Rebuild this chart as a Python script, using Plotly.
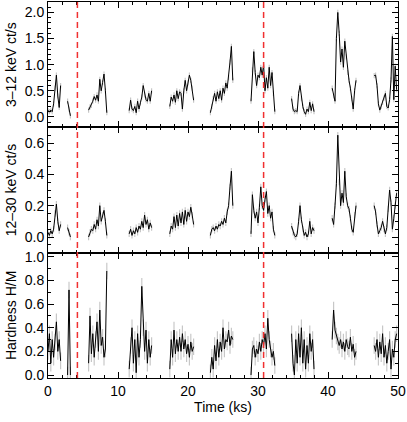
import plotly.graph_objects as go
from plotly.subplots import make_subplots

# time bins (ks): start of each good-time segment, 0.2 ks bins
SEG_START = [0.0, 2.8, 5.8, 11.6, 17.4, 23.2, 29.0, 34.8, 40.6, 46.6]
BIN = 0.2

RATE_3_12 = [
    [0.12, 0.1, 0.13, 0.1, 0.25, 0.55, 0.8, 0.4, 0.18, 0.6],
    [0.3, 0.15, 0.02],
    [0.13, 0.19, 0.22, 0.3, 0.39, 0.32, 0.42, 0.3, 0.72, 0.5, 0.66, 0.82, 0.5, 0.08],
    [0.12, 0.32, 0.15, 0.12, 0.2, 0.08, 0.3, 0.15, 0.27, 0.38, 0.6, 0.42, 0.33, 0.3, 0.45, 0.3, 0.5],
    [0.2, 0.38, 0.3, 0.42, 0.28, 0.5, 0.35, 0.48, 0.45, 0.15, 0.5, 0.7, 0.5, 0.65, 0.8, 0.7, 0.55, 0.32],
    [0.08, 0.2, 0.35, 0.45, 0.3, 0.48, 0.35, 0.5, 0.32, 0.55, 0.45, 0.65, 0.55, 0.75, 1.05, 1.35, 0.7],
    [0.3, 0.9, 1.25, 0.85, 0.6, 0.8, 0.75, 0.95, 0.8, 1.0, 0.5, 0.75, 0.55, 0.95, 0.6, 0.85, 0.45, 0.1],
    [0.35, 0.15, 0.1, 0.12, 0.1, 0.45, 0.6, 0.35, 0.2, 0.1, 0.05, 0.15, 0.1, 0.28, 0.12, 0.25, 0.1],
    [0.55, 0.4, 0.3, 1.5, 2.0, 1.6, 1.05, 1.3, 0.95, 1.45, 1.15, 0.85, 0.7, 0.55, 0.35, 0.15, 0.5, 0.7],
    [0.79, 0.8, 0.6, 0.25, 0.13, 0.2, 0.28, 0.36, 0.45, 0.2, 0.17, 0.33, 0.71, 1.54, 0.33, 0.97, 0.52],
]

RATE_12_30 = [
    [0.03, 0.01, 0.04, 0.02, 0.05, 0.15, 0.21, 0.1, 0.04, 0.08],
    [0.06, 0.03, 0.0],
    [0.0, 0.03, 0.05, 0.04, 0.08, 0.05, 0.11, 0.07, 0.2, 0.1, 0.14, 0.17, 0.1, 0.01],
    [0.02, 0.05, 0.01, 0.04, 0.02, 0.06, 0.03, 0.07, 0.05, 0.1, 0.06, 0.14, 0.08, 0.11, 0.05, 0.09, 0.06],
    [0.02, 0.07, 0.05, 0.13, 0.06, 0.14, 0.07, 0.15, 0.09, 0.16, 0.08, 0.17, 0.1, 0.16, 0.13, 0.19, 0.14, 0.08],
    [0.01, 0.05, 0.06, 0.04, 0.07, 0.05, 0.08, 0.07, 0.1, 0.08, 0.12, 0.09, 0.16, 0.2, 0.32, 0.42, 0.2],
    [0.02, 0.27, 0.17, 0.12, 0.16, 0.09, 0.19, 0.32, 0.2, 0.17, 0.24, 0.29, 0.15, 0.2, 0.12, 0.16, 0.05, 0.01],
    [0.07, 0.03, 0.01, 0.0, 0.02, 0.1, 0.2, 0.11, 0.05, 0.01, 0.03, 0.0, 0.02, 0.1, 0.02, 0.06, 0.04],
    [0.12, 0.08, 0.2, 0.34, 0.65, 0.35, 0.2, 0.28, 0.22, 0.42, 0.26, 0.2, 0.18, 0.12, 0.05, 0.03, 0.14, 0.2],
    [0.2, 0.16, 0.08, 0.02, 0.04, 0.06, 0.1, 0.05, 0.02, 0.06, 0.18, 0.3, 0.22, 0.05, 0.12, 0.2, 0.28],
]

HARDNESS = [
    [0.2, 0.35, 0.1, 0.3, 0.15, 0.28, 0.45, 0.2, 0.3, 0.12],
    [0.0, 0.72, 0.0],
    [0.1, 0.5, 0.18, 0.35, 0.15, 0.3, 0.45, 0.2, 0.55, 0.25, 0.32, 0.15, 0.22, 0.88],
    [0.05, 0.25, 0.4, 0.1, 0.3, 0.02, 0.35, 0.15, 0.3, 0.75, 0.4, 0.2, 0.38, 0.1, 0.3, 0.15, 0.25],
    [0.05, 0.3, 0.15, 0.38, 0.18, 0.3, 0.2, 0.32, 0.2, 0.35, 0.22, 0.3, 0.18, 0.26, 0.15, 0.28, 0.2, 0.24],
    [0.02, 0.15, 0.05, 0.25, 0.12, 0.3, 0.15, 0.28, 0.2, 0.4, 0.22, 0.3, 0.28, 0.38, 0.25, 0.33, 0.3],
    [0.0, 0.22, 0.25, 0.15, 0.22, 0.18, 0.28, 0.2, 0.3, 0.25, 0.35, 0.22, 0.48, 0.3, 0.22, 0.15, 0.2, 0.08],
    [0.35, 0.1, 0.0, 0.3, 0.1, 0.35, 0.15, 0.4, 0.1, 0.3, 0.05, 0.25, 0.1, 0.35, 0.2, 0.3, 0.05],
    [0.3, 0.55, 0.38, 0.33, 0.28, 0.25, 0.3, 0.22, 0.28, 0.2, 0.3, 0.24, 0.22, 0.32, 0.2, 0.26, 0.15, 0.2],
    [0.25, 0.2, 0.3, 0.15, 0.28, 0.18, 0.35, 0.15, 0.25, 0.1, 0.2, 0.3, 0.05, 0.22, 0.15, 0.3, 0.35],
]

# typical 1-sigma uncertainty per panel
ERR = [0.05, 0.02, 0.07]

MARK_TIMES = [4.2, 30.8]

Y_TITLES = ["3\u201312 keV ct/s", "12\u201330 keV ct/s", "Hardness H/M"]
Y_RANGES = [[-0.2, 2.2], [-0.1, 0.7], [-0.025, 1.035]]
Y_TICKS = [
    [0.0, 0.5, 1.0, 1.5, 2.0],
    [0.0, 0.2, 0.4, 0.6],
    [0.0, 0.2, 0.4, 0.6, 0.8, 1.0],
]
Y_MINOR = [0.1, 0.05, 0.1]


def join_segments(segments):
    """Flatten segments into x/y lists with None gaps between them."""
    xs, ys = [], []
    for start, seg in zip(SEG_START, segments):
        xs += [round(start + BIN * i, 2) for i in range(len(seg))] + [None]
        ys += list(seg) + [None]
    return xs, ys


fig = make_subplots(rows=3, cols=1, shared_xaxes=True, vertical_spacing=0)

for row, (series, err) in enumerate(zip([RATE_3_12, RATE_12_30, HARDNESS], ERR), start=1):
    x, y = join_segments(series)
    fig.add_trace(go.Scatter(
        x=x, y=y, mode="lines",
        line=dict(color="black", width=1),
        error_y=dict(type="constant", value=err, color="rgba(0,0,0,0.22)",
                     thickness=1.2, width=0),
        showlegend=False, hoverinfo="skip",
    ), row=row, col=1)

for t in MARK_TIMES:
    fig.add_shape(type="line", x0=t, x1=t, y0=0, y1=1, xref="x", yref="paper",
                  line=dict(color="#f03030", width=1.5, dash="6px,4px"))

axis_style = dict(
    showline=True, linecolor="black", linewidth=1, mirror="allticks",
    ticks="inside", ticklen=6, tickwidth=1, tickcolor="black",
    showgrid=False, zeroline=False,
    tickfont=dict(size=14, color="black"),
)

for row in range(1, 4):
    fig.update_xaxes(
        range=[0, 50], dtick=10, tick0=0,
        minor=dict(ticks="inside", ticklen=3, dtick=2, tick0=0, tickcolor="black", showgrid=False),
        row=row, col=1, **axis_style,
    )
    fig.update_yaxes(
        range=Y_RANGES[row - 1], tickmode="array", tickvals=Y_TICKS[row - 1],
        ticktext=[f"{v:.1f}" for v in Y_TICKS[row - 1]],
        minor=dict(ticks="inside", ticklen=3, dtick=Y_MINOR[row - 1], tick0=0,
                   tickcolor="black", showgrid=False),
        title=dict(text=Y_TITLES[row - 1], font=dict(size=14, color="black"), standoff=4),
        row=row, col=1, **axis_style,
    )

fig.update_xaxes(title=dict(text="Time (ks)", font=dict(size=14, color="black"), standoff=4),
                 row=3, col=1)

fig.update_layout(
    width=407, height=422,
    margin=dict(l=48, r=9, t=2, b=44, autoexpand=False),
    paper_bgcolor="white", plot_bgcolor="white",
    font=dict(family="Liberation Sans, Arial, sans-serif", size=14, color="black"),
)

fig.write_html("out.html", config={"displayModeBar": False},
               post_script="document.body.style.margin='0';")
